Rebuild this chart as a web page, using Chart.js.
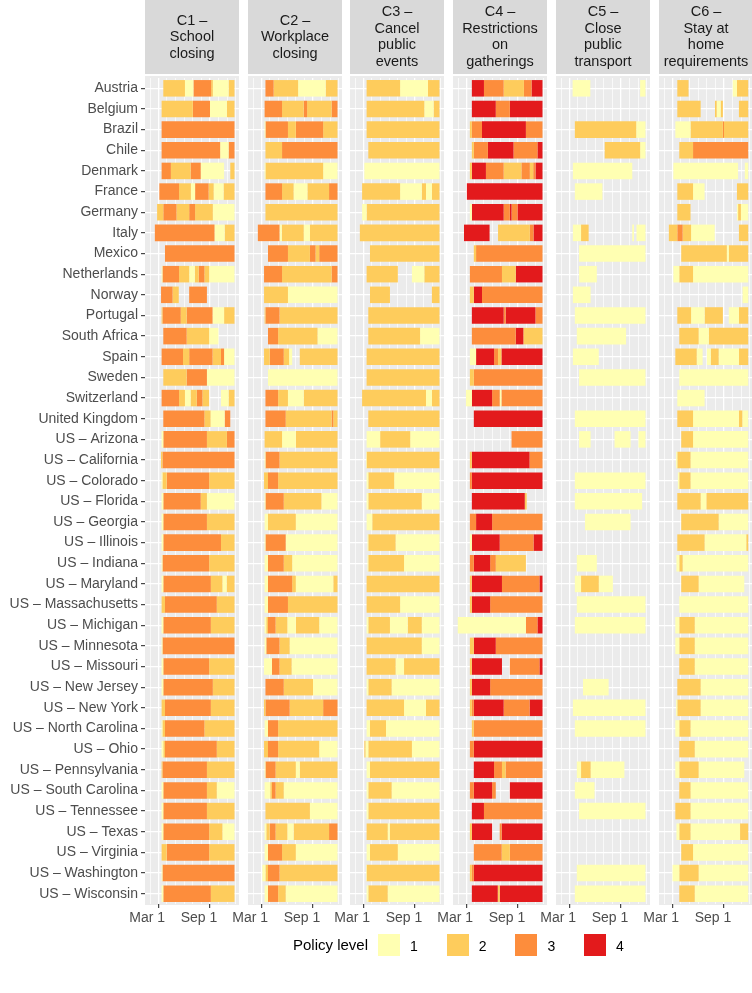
<!DOCTYPE html>
<html>
<head>
<meta charset="utf-8">
<script src="https://cdn.jsdelivr.net/npm/chart.js@4.4.1/dist/chart.umd.min.js"></script>
<style>
    html, body { margin: 0; padding: 0; background: #fff; }
    #figura { position: relative; width: 752px; height: 993px; overflow: hidden; font-family: "Liberation Sans", Arial, sans-serif; }
    #figura canvas { position: absolute; top: 0; }
    .legenda-titulo { position: absolute; top: 936px; font-size: 15px; color: #000; }
    .legenda-cor { position: absolute; top: 934px; width: 22px; height: 22px; }
    .legenda-texto { position: absolute; top: 938px; font-size: 14px; color: #000; }
</style>
</head>
<body>
<div id="figura"></div>
<script>
// dias contados a partir de 1 de março de 2020 (negativo = antes)
const paises = [
    'Austria', 'Belgium', 'Brazil', 'Chile', 'Denmark', 'France', 'Germany', 'Italy', 'Mexico',
    'Netherlands', 'Norway', 'Portugal', 'South Africa', 'Spain', 'Sweden', 'Switzerland',
    'United Kingdom', 'US – Arizona', 'US – California', 'US – Colorado', 'US – Florida',
    'US – Georgia', 'US – Illinois', 'US – Indiana', 'US – Maryland', 'US – Massachusetts',
    'US – Michigan', 'US – Minnesota', 'US – Missouri', 'US – New Jersey', 'US – New York',
    'US – North Carolina', 'US – Ohio', 'US – Pennsylvania', 'US – South Carolina',
    'US – Tennessee', 'US – Texas', 'US – Virginia', 'US – Washington', 'US – Wisconsin'
];

const titulosPainel = [
    ['C1 –', 'School', 'closing'],
    ['C2 –', 'Workplace', 'closing'],
    ['C3 –', 'Cancel', 'public', 'events'],
    ['C4 –', 'Restrictions', 'on', 'gatherings'],
    ['C5 –', 'Close', 'public', 'transport'],
    ['C6 –', 'Stay at', 'home', 'requirements']
];

const niveis = ['1', '2', '3', '4'];
const rotulosEixoX = ['Mar 1', 'Sep 1'];
const posicoesRotulos = [0, 184];
const inicioMeses = [-29, 0, 31, 61, 92, 122, 153, 184, 214, 245, 275];

// [início, fim, nível]
const c1Escolas = [
    [[18,95,2],[95,125,1],[125,188,3],[188,194,2],[194,250,1],[250,271,2]],
    [[12,123,2],[123,184,3],[184,244,1],[244,271,2]],
    [[12,271,3]],
    [[12,220,3],[220,250,1],[250,271,3]],
    [[12,45,3],[45,115,2],[115,151,3],[151,234,1],[256,271,2]],
    [[4,74,3],[74,116,2],[116,131,1],[131,179,3],[179,197,2],[197,232,1],[232,271,2]],
    [[-4,18,2],[18,65,3],[65,110,2],[110,131,3],[131,194,2],[194,271,1]],
    [[-12,200,3],[200,236,1],[236,271,2]],
    [[24,271,3]],
    [[12,15,1],[15,74,3],[74,110,2],[110,130,1],[130,144,2],[144,164,3],[164,181,2],[181,271,1]],
    [[10,51,3],[51,73,2],[110,173,3]],
    [[12,15,2],[15,80,3],[80,101,2],[101,193,3],[193,234,1],[234,271,2]],
    [[18,101,3],[101,181,2],[181,214,1]],
    [[12,88,3],[88,110,2],[110,193,3],[193,223,2],[223,234,3],[234,271,1]],
    [[18,101,2],[101,173,3],[173,271,1]],
    [[12,74,3],[74,95,2],[95,115,1],[115,137,2],[137,157,3],[157,181,2],[223,250,1],[250,271,2]],
    [[18,164,3],[164,186,2],[186,236,1],[236,256,3]],
    [[12,18,1],[18,173,3],[173,244,2],[244,271,3]],
    [[10,15,2],[15,271,3]],
    [[12,15,1],[15,30,2],[30,181,3],[181,271,2]],
    [[12,18,1],[18,151,3],[151,173,2],[173,271,1]],
    [[12,18,1],[18,173,3],[173,271,2]],
    [[12,18,1],[18,223,3],[223,271,2]],
    [[12,15,1],[15,181,3],[181,271,2]],
    [[12,18,1],[18,187,3],[187,228,2],[228,243,1],[243,271,2]],
    [[12,24,2],[24,208,3],[208,271,2]],
    [[12,18,1],[18,187,3],[187,271,2]],
    [[12,15,1],[15,271,3]],
    [[12,18,1],[18,181,3],[181,271,2]],
    [[12,18,1],[18,194,3],[194,271,2]],
    [[12,24,2],[24,187,3],[187,271,2]],
    [[12,15,1],[15,24,2],[24,164,3],[164,271,2]],
    [[12,18,1],[18,24,2],[24,208,3],[208,271,2]],
    [[12,15,2],[15,173,3],[173,271,2]],
    [[12,18,1],[18,173,3],[173,208,2],[208,271,1]],
    [[12,18,1],[18,173,3],[173,271,2]],
    [[12,18,1],[18,181,3],[181,228,2],[228,271,1]],
    [[12,30,2],[30,181,3],[181,271,2]],
    [[12,15,1],[15,271,3]],
    [[12,18,1],[18,187,3],[187,271,2]]
];

const c2Trabalho = [
    [[15,44,3],[44,131,2],[131,229,1],[229,271,2]],
    [[12,74,3],[74,151,2],[151,163,3],[163,250,2],[250,271,3]],
    [[12,15,1],[15,95,3],[95,123,2],[123,220,3],[220,271,2]],
    [[15,74,2],[74,271,3]],
    [[12,15,1],[15,220,2],[220,271,1]],
    [[15,74,3],[74,115,2],[115,164,1],[164,241,2],[241,271,3]],
    [[15,271,2]],
    [[-12,65,3],[65,73,1],[73,151,2],[151,173,1],[173,271,2]],
    [[24,95,3],[95,173,2],[173,193,3],[193,206,2],[206,271,3]],
    [[10,74,3],[74,250,2],[250,271,3]],
    [[10,95,2],[95,271,1]],
    [[12,15,2],[15,65,3],[65,271,2]],
    [[24,60,3],[60,200,2],[200,271,1]],
    [[10,30,2],[30,80,3],[80,99,2],[99,110,1],[137,271,2]],
    [[24,271,1]],
    [[15,60,3],[60,95,2],[95,151,1],[151,271,2]],
    [[15,87,3],[87,250,2],[250,256,3],[256,271,2]],
    [[12,74,2],[74,123,1],[123,271,2]],
    [[12,15,1],[15,65,3],[65,271,2]],
    [[10,24,2],[24,60,3],[60,271,2]],
    [[12,15,1],[15,80,3],[80,214,2],[214,271,1]],
    [[12,24,1],[24,123,2],[123,271,1]],
    [[12,15,1],[15,87,3],[87,271,1]],
    [[12,24,1],[24,80,3],[80,110,2],[110,271,1]],
    [[12,24,1],[24,110,3],[110,123,2],[123,256,1],[256,271,2]],
    [[12,24,1],[24,95,3],[95,271,2]],
    [[12,18,1],[18,24,2],[24,51,3],[51,93,2],[93,123,1],[123,206,2],[206,271,1]],
    [[12,18,1],[18,65,3],[65,101,2],[101,271,1]],
    [[10,38,1],[38,65,3],[65,108,2],[108,271,1]],
    [[15,80,3],[80,184,2],[184,271,1]],
    [[10,15,2],[15,101,3],[101,220,2],[220,271,3]],
    [[12,24,1],[24,60,3],[60,271,2]],
    [[10,24,2],[24,60,3],[60,206,2],[206,271,1]],
    [[12,15,1],[15,51,3],[51,123,2],[123,137,1],[137,271,2]],
    [[12,32,1],[32,38,2],[38,51,3],[51,80,2],[80,271,1]],
    [[15,173,2],[173,271,1]],
    [[12,18,1],[18,30,2],[30,51,3],[51,93,2],[93,115,1],[115,241,2],[241,271,3]],
    [[12,24,1],[24,74,3],[74,123,2],[123,271,1]],
    [[4,15,1],[15,24,2],[24,65,3],[65,271,2]],
    [[12,24,1],[24,60,3],[60,87,2],[87,271,1]]
];

const c3Eventos = [
    [[12,131,2],[131,230,1],[230,271,2]],
    [[12,217,2],[217,250,1],[250,271,2]],
    [[12,271,2]],
    [[18,271,2]],
    [[4,271,1]],
    [[-4,131,2],[131,208,1],[208,223,2],[223,244,1],[244,271,2]],
    [[-4,12,1],[12,271,2]],
    [[-12,271,2]],
    [[24,271,2]],
    [[12,123,2],[173,217,1],[217,271,2]],
    [[24,95,2],[244,271,2]],
    [[18,271,2]],
    [[18,202,2],[202,271,1]],
    [[12,271,2]],
    [[12,271,2]],
    [[-4,223,2],[223,244,1],[244,271,2]],
    [[18,271,2]],
    [[12,60,1],[60,167,2],[167,271,1]],
    [[10,12,1],[12,271,2]],
    [[12,18,1],[18,110,2],[110,271,1]],
    [[12,18,1],[18,208,2],[208,271,1]],
    [[12,32,1],[32,271,2]],
    [[15,18,1],[18,115,2],[115,271,1]],
    [[15,18,1],[18,145,2],[145,271,1]],
    [[12,271,2]],
    [[12,131,2],[131,271,1]],
    [[12,18,1],[18,95,2],[95,158,1],[158,208,2],[208,271,1]],
    [[12,208,2],[208,271,1]],
    [[12,115,2],[115,145,1],[145,271,2]],
    [[12,18,1],[18,101,2],[101,271,1]],
    [[12,145,2],[145,223,1],[223,271,2]],
    [[12,24,1],[24,81,2],[81,271,1]],
    [[4,8,2],[8,18,1],[18,173,2],[173,271,1]],
    [[12,24,1],[24,271,2]],
    [[12,18,1],[18,101,2],[101,271,1]],
    [[12,18,1],[18,271,2]],
    [[12,87,2],[87,94,1],[94,271,2]],
    [[12,24,1],[24,123,2],[123,271,1]],
    [[10,12,1],[12,271,2]],
    [[12,18,1],[18,87,2],[87,271,1]]
];

const c4Reunioes = [
    [[20,63,4],[63,133,3],[133,205,2],[205,232,3],[232,271,4]],
    [[20,105,4],[105,155,3],[155,271,4]],
    [[13,20,2],[20,56,3],[56,212,4],[212,271,3]],
    [[20,27,2],[27,77,3],[77,168,4],[168,253,3],[253,271,4]],
    [[13,20,2],[20,70,4],[70,133,3],[133,196,2],[196,226,3],[226,238,2],[238,246,3],[246,271,4]],
    [[0,271,4]],
    [[13,20,1],[20,133,4],[133,155,3],[155,161,4],[161,182,3],[182,271,4]],
    [[-8,83,4],[113,226,2],[226,239,3],[239,271,4]],
    [[27,35,2],[35,271,3]],
    [[13,127,3],[127,176,2],[176,271,4]],
    [[13,27,2],[27,56,4],[56,271,3]],
    [[20,133,4],[133,140,3],[140,246,4],[246,271,3]],
    [[20,176,3],[176,203,4],[203,271,2]],
    [[13,35,1],[35,99,4],[99,113,3],[113,125,2],[125,271,4]],
    [[13,27,2],[27,271,3]],
    [[-1,20,1],[20,92,4],[92,119,3],[119,125,1],[125,271,3]],
    [[27,271,4]],
    [[161,271,3]],
    [[13,20,2],[20,225,4],[225,271,3]],
    [[13,20,3],[20,271,4]],
    [[20,208,4],[208,215,2]],
    [[13,35,3],[35,92,4],[92,271,3]],
    [[13,20,1],[20,119,4],[119,239,3],[239,271,4]],
    [[13,27,3],[27,85,4],[85,105,3],[105,212,2]],
    [[13,20,2],[20,127,4],[127,260,3],[260,271,4]],
    [[13,20,2],[20,85,4],[85,271,3]],
    [[-30,212,1],[212,253,3],[253,271,4]],
    [[13,27,2],[27,105,4],[105,271,3]],
    [[13,20,2],[20,127,4],[155,260,3],[260,271,4]],
    [[13,20,2],[20,85,4],[85,271,3]],
    [[13,20,2],[20,27,3],[27,133,4],[133,225,3],[225,271,4]],
    [[20,27,2],[27,271,3]],
    [[13,27,3],[27,271,4]],
    [[27,99,4],[99,127,3],[127,140,2],[140,271,3]],
    [[13,27,3],[27,92,4],[92,105,3],[155,271,4]],
    [[20,63,4],[63,271,3]],
    [[13,20,2],[20,92,4],[119,126,3],[126,271,4]],
    [[27,126,3],[126,155,2],[155,271,3]],
    [[13,20,2],[20,27,3],[27,271,4]],
    [[20,112,4],[112,119,2],[119,271,4]]
];

const c5Transporte = [
    [[12,75,1],[252,271,1]],
    [],
    [[20,238,2],[238,271,1]],
    [[126,252,2],[252,271,1]],
    [[13,224,1]],
    [[20,118,1]],
    [],
    [[13,42,1],[42,69,2],[224,230,1],[239,271,1]],
    [[35,271,1]],
    [[35,98,1]],
    [[13,76,1]],
    [[20,271,1]],
    [[27,202,1]],
    [[13,105,1]],
    [[35,271,1]],
    [],
    [[20,271,1]],
    [[35,76,1],[161,218,1],[246,271,1]],
    [],
    [[20,271,1]],
    [[20,259,1]],
    [[56,218,1]],
    [],
    [[27,98,1]],
    [[20,42,1],[42,105,2],[105,155,1]],
    [[27,271,1]],
    [[20,271,1]],
    [],
    [],
    [[49,140,1]],
    [[13,271,1]],
    [[20,271,1]],
    [],
    [[27,42,1],[42,76,2],[76,196,1]],
    [[20,90,1]],
    [[35,271,1]],
    [],
    [],
    [[27,271,1]],
    [[20,271,1]]
];

const c6Casa = [
    [[18,58,2],[215,230,1],[230,270,2]],
    [[18,101,2],[152,158,2],[158,172,1],[172,180,2],[237,270,2]],
    [[11,65,1],[65,180,2],[180,184,3],[184,270,2]],
    [[25,74,2],[74,270,3]],
    [[4,234,1],[258,270,1]],
    [[18,74,2],[74,115,1],[230,270,2]],
    [[18,65,2],[230,234,1],[234,244,2],[244,270,1]],
    [[-12,18,2],[18,37,3],[37,67,2],[67,151,1],[237,270,2]],
    [[32,194,2],[194,201,1],[201,270,2]],
    [[4,25,1],[25,74,2],[74,270,1]],
    [[250,270,1]],
    [[18,67,2],[67,115,1],[115,180,2],[201,237,1],[237,270,2]],
    [[25,94,2],[94,130,1],[130,270,2]],
    [[11,87,2],[87,108,1],[123,137,1],[137,165,2],[165,237,1],[237,270,2]],
    [[25,270,1]],
    [[18,115,1]],
    [[18,74,2],[74,237,1],[237,249,2],[249,270,1]],
    [[32,74,2],[74,270,1]],
    [[14,18,1],[18,65,2],[65,270,1]],
    [[20,25,1],[25,65,2],[65,270,1]],
    [[18,101,2],[101,121,1],[121,270,2]],
    [[32,165,2],[165,270,1]],
    [[18,115,2],[115,263,1],[263,270,2]],
    [[15,25,1],[25,37,2],[37,270,1]],
    [[32,94,2],[94,256,1]],
    [[25,270,1]],
    [[11,25,1],[25,80,2],[80,270,1]],
    [[11,25,1],[25,80,2],[80,270,1]],
    [[25,80,2],[80,270,1]],
    [[18,101,2],[101,270,1]],
    [[14,18,1],[18,101,2],[101,270,1]],
    [[11,25,1],[25,65,2],[65,270,1]],
    [[25,80,2],[80,270,1]],
    [[11,25,1],[25,94,2],[94,256,1]],
    [[25,65,2],[65,270,1]],
    [[11,65,2],[65,270,1]],
    [[15,25,1],[25,65,2],[65,241,1],[241,270,2]],
    [[32,74,2],[74,270,1]],
    [[1,25,1],[25,94,2],[94,270,1]],
    [[25,80,2],[80,270,1]]
];

(function () {
    const figura = document.getElementById('figura');
    const politicas = [c1Escolas, c2Trabalho, c3Eventos, c4Reunioes, c5Transporte, c6Casa];
    const coresNivel = ['#FFFFB2', '#FECC5C', '#FD8D3C', '#E31A1C'];
    const fonte = '"Liberation Sans", Arial, sans-serif';

    const eixoMin = -47;
    const eixoMax = 287;
    const larguraPainel = 94;
    const passoPainel = 102.7;
    const esquerdaPainel = 145;
    const margem = 22;
    const alturaCanvas = 940;

    const faixaPainel = {
        id: 'faixaPainel',
        beforeDraw: function (chart, args, opts) {
            const area = chart.chartArea;
            const ctx = chart.ctx;
            ctx.save();
            ctx.fillStyle = '#EBEBEB';
            ctx.fillRect(area.left, area.top - 2, area.right - area.left, area.bottom - area.top + 3);

            ctx.fillStyle = '#D9D9D9';
            ctx.fillRect(area.left, 0, area.right - area.left, 74);
            ctx.fillStyle = '#1A1A1A';
            ctx.font = '14.5px ' + fonte;
            ctx.textAlign = 'center';
            ctx.textBaseline = 'middle';
            const linhas = opts.linhas || [];
            const meio = (linhas.length - 1) / 2;
            linhas.forEach(function (linha, i) {
                ctx.fillText(linha, (area.left + area.right) / 2, 37 + (i - meio) * 16.5);
            });
            ctx.restore();
        }
    };

    function montarDatasets(linhas) {
        const maxSeg = Math.max.apply(null, linhas.map(function (l) { return l.length; }));
        const datasets = [];
        for (let k = 0; k < maxSeg; k++) {
            datasets.push({
                data: linhas.map(function (l) {
                    return l[k] ? [l[k][0], l[k][1]] : null;
                }),
                backgroundColor: linhas.map(function (l) {
                    return l[k] ? coresNivel[l[k][2] - 1] : 'rgba(0,0,0,0)';
                }),
                borderWidth: 0,
                grouped: false,
                barPercentage: 0.8,
                categoryPercentage: 1
            });
        }
        return datasets;
    }

    function ehPrincipal(valor) {
        return posicoesRotulos.indexOf(valor) >= 0;
    }

    politicas.forEach(function (linhas, p) {
        const primeiro = p === 0;
        const canvas = document.createElement('canvas');
        const largura = primeiro ? esquerdaPainel + larguraPainel + margem : larguraPainel + 2 * margem;
        canvas.width = largura;
        canvas.height = alturaCanvas;
        canvas.style.width = largura + 'px';
        canvas.style.height = alturaCanvas + 'px';
        canvas.style.left = (primeiro ? 0 : esquerdaPainel + p * passoPainel - margem) + 'px';
        figura.appendChild(canvas);

        new Chart(canvas, {
            type: 'bar',
            data: {
                labels: paises,
                datasets: montarDatasets(linhas)
            },
            options: {
                indexAxis: 'y',
                responsive: false,
                animation: false,
                events: [],
                layout: { padding: { top: 78, bottom: 6, left: primeiro ? 0 : margem, right: margem } },
                plugins: {
                    legend: { display: false },
                    tooltip: { enabled: false },
                    faixaPainel: { linhas: titulosPainel[p] }
                },
                scales: {
                    x: {
                        type: 'linear',
                        min: eixoMin,
                        max: eixoMax,
                        afterBuildTicks: function (scale) {
                            scale.ticks = inicioMeses.map(function (v) { return { value: v }; });
                        },
                        afterFit: function (scale) { scale.height = 30; },
                        ticks: {
                            autoSkip: false,
                            maxRotation: 0,
                            padding: 2,
                            labelOffset: -11,
                            color: '#4D4D4D',
                            font: { size: 14, family: fonte },
                            callback: function (valor) {
                                const i = posicoesRotulos.indexOf(valor);
                                return i >= 0 ? rotulosEixoX[i] : '';
                            }
                        },
                        grid: {
                            color: '#FFFFFF',
                            lineWidth: function (ctx) {
                                return ctx.tick && ehPrincipal(ctx.tick.value) ? 1.3 : 0.7;
                            },
                            drawTicks: true,
                            tickLength: 4,
                            tickWidth: 1.1,
                            tickColor: function (ctx) {
                                return ctx.tick && ehPrincipal(ctx.tick.value) ? '#333333' : 'rgba(0,0,0,0)';
                            }
                        },
                        border: { display: false }
                    },
                    y: {
                        type: 'category',
                        offset: true,
                        afterFit: function (scale) { scale.width = primeiro ? esquerdaPainel : 0; },
                        ticks: {
                            display: primeiro,
                            autoSkip: false,
                            padding: 3,
                            color: '#4D4D4D',
                            font: { size: 14, family: fonte }
                        },
                        grid: {
                            offset: false,
                            color: '#FFFFFF',
                            lineWidth: 1.3,
                            drawTicks: primeiro,
                            tickLength: 4,
                            tickWidth: 1.1,
                            tickColor: '#333333'
                        },
                        border: { display: false }
                    }
                }
            },
            plugins: [faixaPainel]
        });
    });

    // legenda
    const titulo = document.createElement('div');
    titulo.className = 'legenda-titulo';
    titulo.style.left = '293px';
    titulo.textContent = 'Policy level';
    figura.appendChild(titulo);

    niveis.forEach(function (nivel, i) {
        const cor = document.createElement('div');
        cor.className = 'legenda-cor';
        cor.style.left = (378 + i * 68.7) + 'px';
        cor.style.background = coresNivel[i];
        figura.appendChild(cor);

        const texto = document.createElement('div');
        texto.className = 'legenda-texto';
        texto.style.left = (378 + i * 68.7 + 32) + 'px';
        texto.textContent = nivel;
        figura.appendChild(texto);
    });
})();
</script>
</body>
</html>
